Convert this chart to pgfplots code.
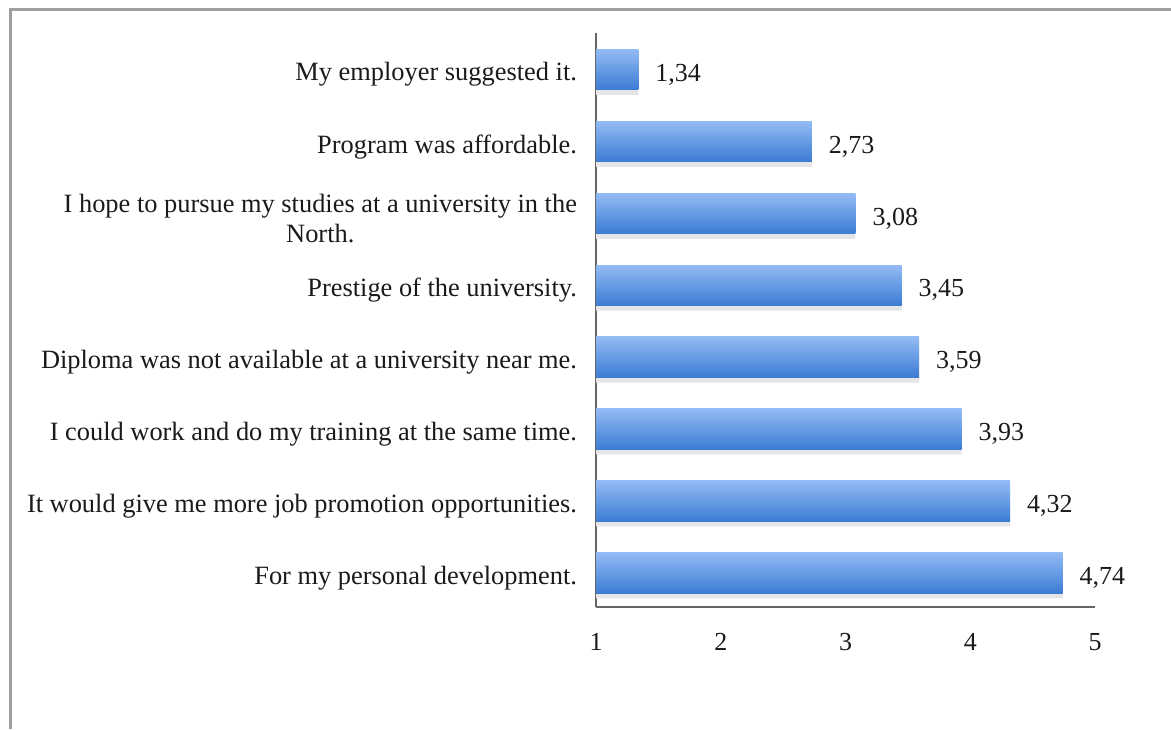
\documentclass[border=0pt]{standalone}
\usepackage{pgfplots}
\pgfplotsset{compat=1.18}
\usepackage{fontspec}
\setmainfont{Liberation Serif}
\definecolor{barTop}{HTML}{93BBF5}
\definecolor{barBot}{HTML}{3B7BD4}
\definecolor{txt}{HTML}{1A1A1A}
\begin{document}
\begin{tikzpicture}
\useasboundingbox (0,0) rectangle (585.5pt,364.5pt);
\draw[gray!75, line width=1.5pt] (5pt,0) -- (5pt,359.5pt) -- (585.5pt,359.5pt);
\begin{axis}[
  at={(298pt,61pt)}, anchor=south west,
  scale only axis, width=249.5pt, height=287pt,
  xmin=1, xmax=5, ymin=-0.473, ymax=7.51,
  xbar, bar width=20.3pt,
  axis x line*=bottom, axis y line*=left,
  axis line style={gray!80!black, line width=0.8pt},
  major tick length=0pt,
  xtick={1,2,3,4,5},
  ytick={0,...,7},
  yticklabels={{For my personal development.},
               {It would give me more job promotion opportunities.},
               {I could work and do my training at the same time.},
               {Diploma was not available at a university near me.},
               {Prestige of the university.},
               {I hope to pursue my studies at a university in the\\North.},
               {Program was affordable.},
               {My employer suggested it.}},
  yticklabel style={align=center, font=\fontsize{13.2}{15}\selectfont, text=txt, xshift=-6pt, yshift=-2.5pt},
  xticklabel style={font=\fontsize{13}{15}\selectfont, text=txt, yshift=-9.5pt},
  /pgf/number format/assume math mode=true,
  point meta=x,
  clip=true,
  every axis plot/.append style={bar shift=0pt},
  nodes near coords={\pgfmathprintnumber[use comma,fixed,fixed zerofill,precision=2,assume math mode=true]{\pgfplotspointmeta}},
  nodes near coords style={anchor=west, xshift=5pt, yshift=-2.5pt, font=\fontsize{13}{15}\selectfont, text=txt},
  barstyle/.style={draw=none, top color=barTop, bottom color=barBot},
]
\addplot[draw=none, fill=gray!20, bar shift=-2.5pt, forget plot, nodes near coords=] coordinates {
  (4.74,0) (4.32,1) (3.93,2) (3.59,3) (3.45,4) (3.08,5) (2.73,6) (1.34,7)};
\addplot[barstyle] coordinates {(4.74,0)};
\addplot[barstyle] coordinates {(4.32,1)};
\addplot[barstyle] coordinates {(3.93,2)};
\addplot[barstyle] coordinates {(3.59,3)};
\addplot[barstyle] coordinates {(3.45,4)};
\addplot[barstyle] coordinates {(3.08,5)};
\addplot[barstyle] coordinates {(2.73,6)};
\addplot[barstyle] coordinates {(1.34,7)};
\end{axis}
\end{tikzpicture}
\end{document}
